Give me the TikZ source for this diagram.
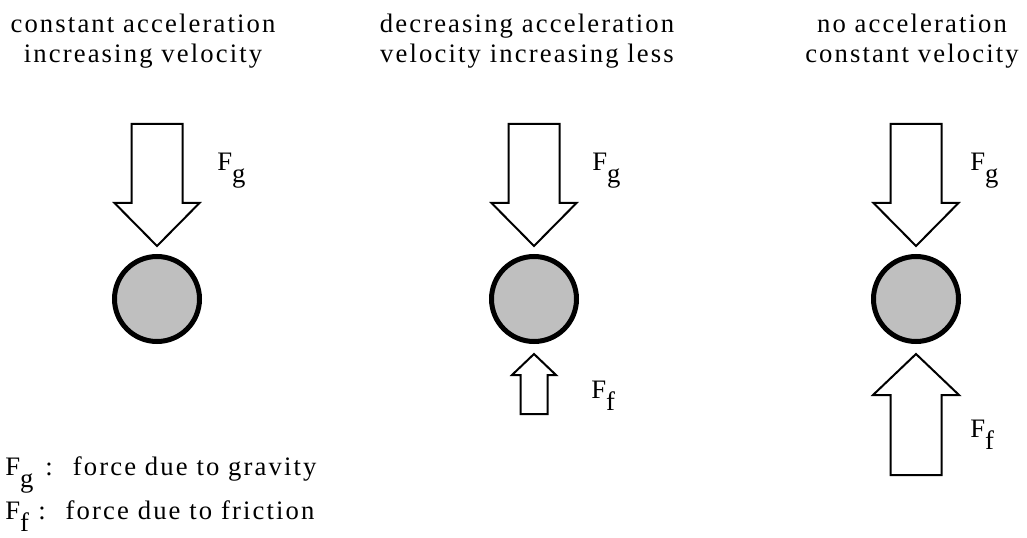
\documentclass[tikz,border=0pt]{standalone}
\usepackage{fontspec}
\setmainfont{Liberation Serif}[LetterSpace=8]
\usetikzlibrary{calc}
\tikzset{
  ball/.style={
    circle,
    draw,
    line width=3.75pt,
    fill=black!25,
    minimum size=63.75pt,
    inner sep=0pt
  },
  hollow/.style={
    draw,
    fill=white,
    line width=1.5pt,
    line join=miter
  },
  caption/.style={
    align=center,
    inner sep=0pt,
    font=\fontsize{20}{22.5}\selectfont
  },
  forcelabel/.style={
    anchor=base west,
    inner sep=0pt,
    font=\fontsize{20}{22}\selectfont
  },
  % hollow arrow: tip at origin, head half width / shaft half width / head length / total length
  pics/push/.style args={#1/#2/#3/#4}{
    code={
      \draw[hollow] (0,0) -- (#1,-#3) -- (#2,-#3) -- (#2,-#4)
        -- (-#2,-#4) -- (-#2,-#3) -- (-#1,-#3) -- cycle;
    }
  }
}
\newcommand{\sub}[1]{\raisebox{-0.45em}{#1}}

\begin{document}
\begin{tikzpicture}[x=0.75pt,y=-0.75pt]
    \useasboundingbox (0,0) rectangle (1027,538);

    % titles
    \node[caption] (t1) at (143,41) {constant acceleration\\increasing velocity};
    \node[caption] (t2) at (527,41) {decreasing acceleration\\velocity increasing less};
    \node[caption] (t3) at (912,41) {no acceleration\\constant velocity};

    % balls
    \node[ball] (b1) at (157,299) {};
    \node[ball] (b2) at (534,299) {};
    \node[ball] (b3) at (916,299) {};

    % gravity
    \pic at ($(b1.north)+(0,-8)$) {push={42.5/25.5/43/122}};
    \pic at ($(b2.north)+(0,-8)$) {push={42.5/25.5/43/122}};
    \pic at ($(b3.north)+(0,-8)$) {push={42.5/25.5/43/122}};
    \node[forcelabel] (g1) at (217,171) {F\sub{g}};
    \node[forcelabel] (g2) at (592,171) {F\sub{g}};
    \node[forcelabel] (g3) at (970,171) {F\sub{g}};

    % friction
    \pic[rotate=180] at ($(b2.south)+(0,10)$) {push={22/13.5/21/60}};
    \pic[rotate=180] at ($(b3.south)+(0,10)$) {push={43/25.5/41/121}};
    \node[forcelabel] (f2) at (591,398) {F\sub{f}};
    \node[forcelabel] (f3) at (970,437) {F\sub{f}};

    % legend
    \node[forcelabel] (lg) at (5,475) {F\sub{g}\hspace{0.45em}:\hspace{0.75em}force due to gravity};
    \node[forcelabel] (lf) at (5,519) {F\sub{f}\hspace{0.35em}:\hspace{0.75em}force due to friction};
\end{tikzpicture}
\end{document}
